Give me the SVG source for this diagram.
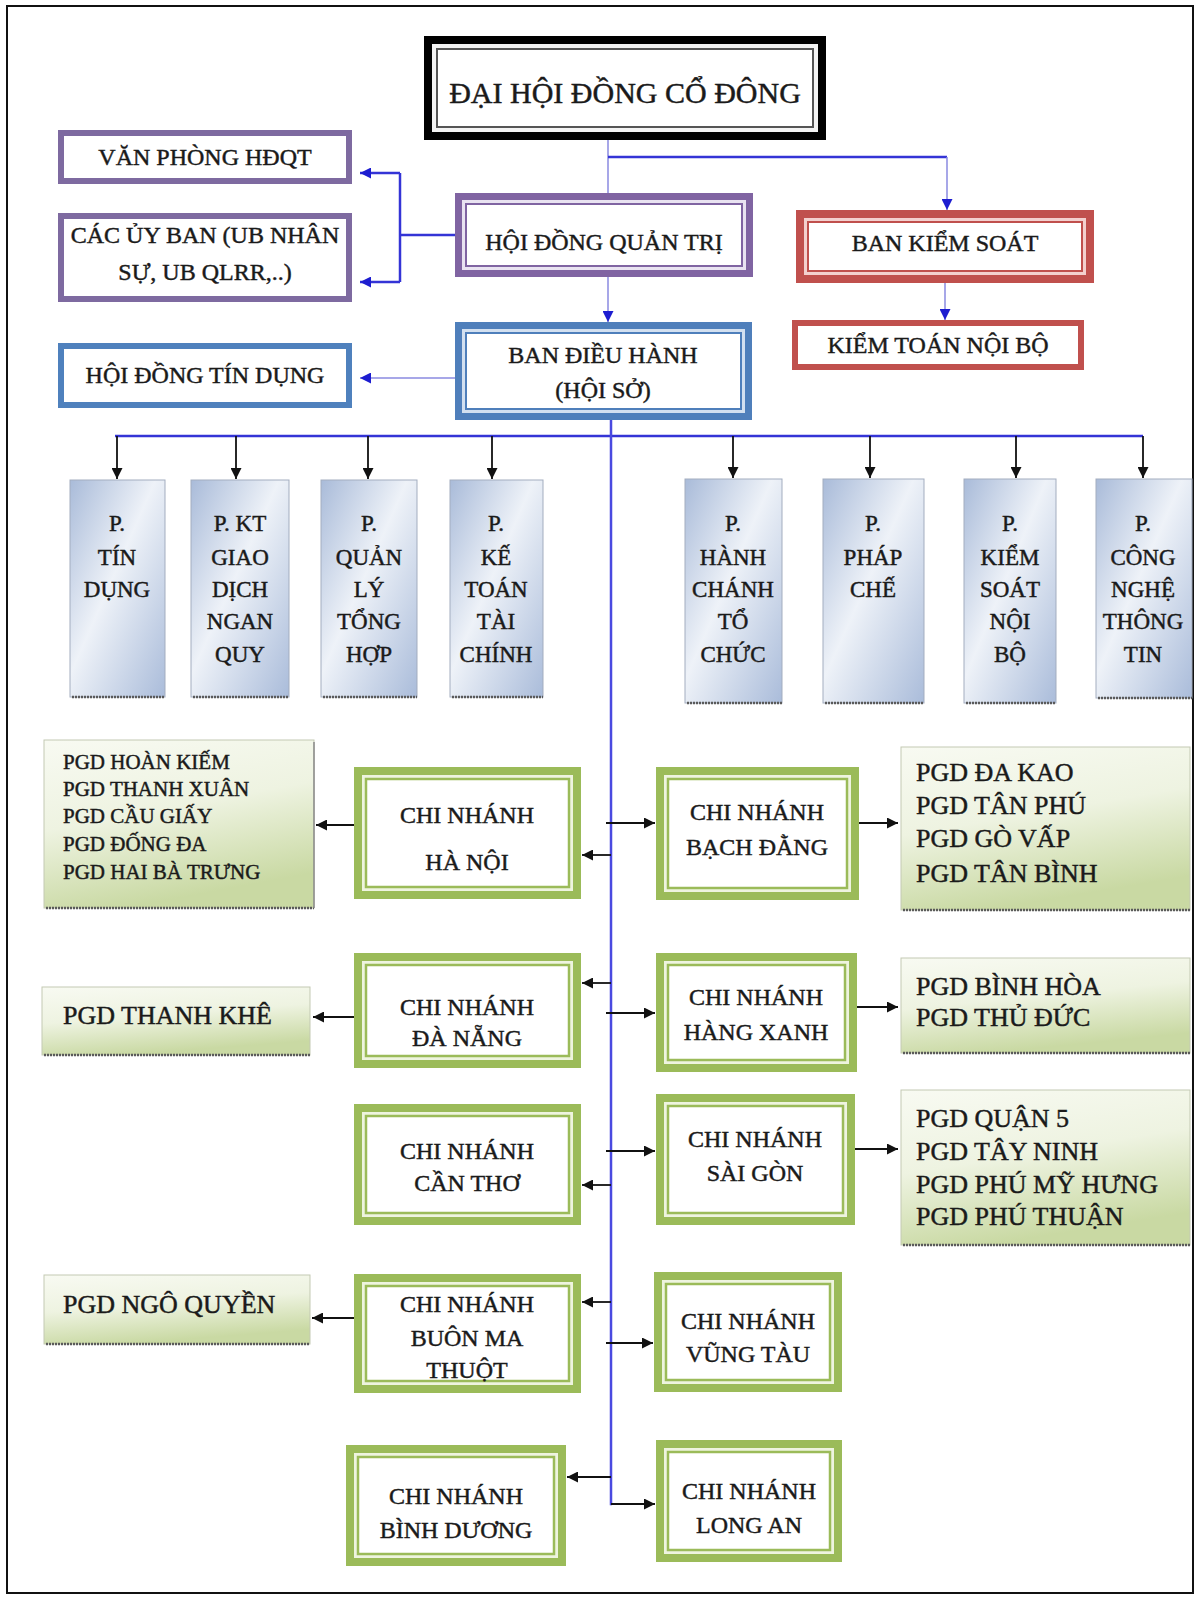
<svg xmlns="http://www.w3.org/2000/svg" width="1195" height="1598" viewBox="0 0 1195 1598">
<defs>
<style>
text{font-family:"Liberation Serif","Times New Roman",serif;fill:#1a1a1a;stroke:#1a1a1a;stroke-width:0.45;text-anchor:middle}
.t30{font-size:30px}
.t24{font-size:24px}
.t23{font-size:23px}
.t26{font-size:26px;text-anchor:start}
.t21{font-size:21px;text-anchor:start}
.blk{stroke:#111;stroke-width:1.8;fill:none}
.blu{stroke:#3434d6;stroke-width:2.5;fill:none}
.blut{stroke:#8a8ae0;stroke-width:1.5;fill:none}
.main{stroke:#4a4ae0;stroke-width:2.5;fill:none}
.dept{fill:url(#gDept);stroke:#a3adbf;stroke-width:1}
.pgd{fill:url(#gPgd);stroke:#c3c9b3;stroke-width:1}
.shd{stroke:#5a5a5a;stroke-width:2.5;stroke-dasharray:2 1}
.shr{stroke:#8a8a8a;stroke-width:1.5}
.gOut{fill:#eef4df;stroke:#9bbb59;stroke-width:8}
.gIn{fill:#fff;stroke:#9bbb59;stroke-width:2.5}
</style>
<linearGradient id="gDept" x1="0" y1="0" x2="1" y2="1">
<stop offset="0" stop-color="#a9bbd9"/>
<stop offset="0.45" stop-color="#eef2f8"/>
<stop offset="1" stop-color="#aabcda"/>
</linearGradient>
<linearGradient id="gPgd" x1="0" y1="0" x2="0.3" y2="1">
<stop offset="0" stop-color="#f8faf2"/>
<stop offset="0.5" stop-color="#eef3e1"/>
<stop offset="1" stop-color="#c9d9a3"/>
</linearGradient>
<marker id="ak" viewBox="0 0 10 10" refX="10" refY="5" markerWidth="11" markerHeight="11" markerUnits="userSpaceOnUse" orient="auto"><path d="M0,0 L10,5 L0,10 z" fill="#111"/></marker>
<marker id="ab" viewBox="0 0 10 10" refX="10" refY="5" markerWidth="11" markerHeight="11" markerUnits="userSpaceOnUse" orient="auto"><path d="M0,0 L10,5 L0,10 z" fill="#1d1dd0"/></marker>
</defs>

<rect x="0" y="0" width="1195" height="1598" fill="#fff"/>
<rect x="7" y="6" width="1186" height="1587" fill="none" stroke="#111" stroke-width="2"/>

<g id="connectors">
<line class="blut" x1="608" y1="140" x2="608" y2="193"/>
<line class="blu" x1="608" y1="157" x2="947" y2="157"/>
<line class="blut" x1="947" y1="157" x2="947" y2="210" marker-end="url(#ab)"/>
<line class="blut" x1="945" y1="283" x2="945" y2="320" marker-end="url(#ab)"/>
<line class="blut" x1="608" y1="277" x2="608" y2="322" marker-end="url(#ab)"/>
<line class="blu" x1="455" y1="235" x2="400" y2="235" stroke-width="3"/>
<line class="blu" x1="400" y1="173" x2="400" y2="282" stroke-width="2"/>
<line class="blu" x1="400" y1="173" x2="360" y2="173" stroke-width="2" marker-end="url(#ab)"/>
<line class="blu" x1="400" y1="282" x2="360" y2="282" stroke-width="2" marker-end="url(#ab)"/>
<line class="blut" x1="455" y1="378" x2="360" y2="378" marker-end="url(#ab)"/>
<line class="blu" x1="115" y1="436" x2="1143" y2="436"/>
<line class="blk" x1="117" y1="436" x2="117" y2="479" marker-end="url(#ak)"/>
<line class="blk" x1="236" y1="436" x2="236" y2="479" marker-end="url(#ak)"/>
<line class="blk" x1="368" y1="436" x2="368" y2="479" marker-end="url(#ak)"/>
<line class="blk" x1="492" y1="436" x2="492" y2="479" marker-end="url(#ak)"/>
<line class="blk" x1="733" y1="436" x2="733" y2="478" marker-end="url(#ak)"/>
<line class="blk" x1="870" y1="436" x2="870" y2="478" marker-end="url(#ak)"/>
<line class="blk" x1="1016" y1="436" x2="1016" y2="478" marker-end="url(#ak)"/>
<line class="blk" x1="1143" y1="436" x2="1143" y2="478" marker-end="url(#ak)"/>
<polyline class="main" points="611,420 611,1504 612,1504"/>
<line class="blk" x1="611" y1="1504" x2="655" y2="1504" marker-end="url(#ak)"/>
<line class="blk" x1="611" y1="855" x2="582" y2="855" marker-end="url(#ak)"/>
<line class="blk" x1="606" y1="823" x2="655" y2="823" marker-end="url(#ak)"/>
<line class="blk" x1="611" y1="983" x2="582" y2="983" marker-end="url(#ak)"/>
<line class="blk" x1="606" y1="1013" x2="655" y2="1013" marker-end="url(#ak)"/>
<line class="blk" x1="606" y1="1151" x2="655" y2="1151" marker-end="url(#ak)"/>
<line class="blk" x1="611" y1="1185" x2="582" y2="1185" marker-end="url(#ak)"/>
<line class="blk" x1="611" y1="1302" x2="582" y2="1302" marker-end="url(#ak)"/>
<line class="blk" x1="606" y1="1343" x2="653" y2="1343" marker-end="url(#ak)"/>
<line class="blk" x1="611" y1="1477" x2="567" y2="1477" stroke="#777" marker-end="url(#ak)"/>
<line class="blk" x1="354" y1="825" x2="316" y2="825" marker-end="url(#ak)"/>
<line class="blk" x1="354" y1="1017" x2="313" y2="1017" marker-end="url(#ak)"/>
<line class="blk" x1="354" y1="1318" x2="312" y2="1318" marker-end="url(#ak)"/>
<line class="blk" x1="859" y1="823" x2="898" y2="823" marker-end="url(#ak)"/>
<line class="blk" x1="857" y1="1007" x2="898" y2="1007" marker-end="url(#ak)"/>
<line class="blk" x1="855" y1="1149" x2="898" y2="1149" marker-end="url(#ak)"/>
</g>

<g id="dhdcd">
<rect x="428" y="40" width="394" height="96" fill="#f3f3f3" stroke="#000" stroke-width="8"/>
<rect x="437" y="49" width="376" height="78" fill="#fff" stroke="#555" stroke-width="2"/>
<text class="t30" x="625" y="103">ĐẠI HỘI ĐỒNG CỔ ĐÔNG</text>
</g>

<g id="hdqt">
<rect x="458.5" y="196.5" width="291" height="77" fill="#e9e3f1" stroke="#8064a2" stroke-width="7"/>
<rect x="466" y="204" width="276" height="62" fill="#fff" stroke="#8064a2" stroke-width="2"/>
<text class="t24" x="604" y="250">HỘI ĐỒNG QUẢN TRỊ</text>
</g>

<g id="vphdqt">
<rect x="61" y="133" width="288" height="48" fill="#fff" stroke="#7e6aa0" stroke-width="6"/>
<text class="t24" x="205" y="165">VĂN PHÒNG HĐQT</text>
</g>

<g id="cacuyban">
<rect x="61" y="216" width="288" height="83" fill="#fff" stroke="#7e6aa0" stroke-width="6"/>
<text class="t24" x="205" y="243">CÁC ỦY BAN (UB NHÂN</text>
<text class="t24" x="205" y="280">SỰ, UB QLRR,..)</text>
</g>

<g id="bks">
<rect x="800" y="214" width="290" height="65" fill="#f3d0ce" stroke="#c0504d" stroke-width="8"/>
<rect x="808" y="222" width="274" height="49" fill="#fff" stroke="#c0504d" stroke-width="2"/>
<text class="t24" x="945" y="251">BAN KIỂM SOÁT</text>
</g>

<g id="ktnb">
<rect x="795" y="323" width="286" height="44" fill="#fff" stroke="#c0504d" stroke-width="6"/>
<text class="t24" x="938" y="353">KIỂM TOÁN NỘI BỘ</text>
</g>

<g id="bdh">
<rect x="458.5" y="325.5" width="290" height="91" fill="#d3e0f0" stroke="#4f7fbb" stroke-width="7"/>
<rect x="466" y="333" width="275" height="76" fill="#fff" stroke="#4f7fbb" stroke-width="2"/>
<text class="t24" x="603" y="363">BAN ĐIỀU HÀNH</text>
<text class="t24" x="603" y="398">(HỘI SỞ)</text>
</g>

<g id="hdtd">
<rect x="61" y="346" width="288" height="59" fill="#fff" stroke="#4f81bd" stroke-width="6"/>
<text class="t24" x="205" y="383">HỘI ĐỒNG TÍN DỤNG</text>
</g>

<g id="p-tindung">
<rect class="dept" x="70" y="480" width="95" height="217"/>
<line class="shd" x1="72" y1="697" x2="165" y2="697"/>
<text class="t23"><tspan x="117" y="531">P.</tspan><tspan x="117" y="565">TÍN</tspan><tspan x="117" y="597">DỤNG</tspan></text>
</g>
<g id="p-ktgd">
<rect class="dept" x="191" y="480" width="98" height="217"/>
<line class="shd" x1="193" y1="697" x2="289" y2="697"/>
<text class="t23"><tspan x="240" y="531">P. KT</tspan><tspan x="240" y="565">GIAO</tspan><tspan x="240" y="597">DỊCH</tspan><tspan x="240" y="629">NGAN</tspan><tspan x="240" y="662">QUY</tspan></text>
</g>
<g id="p-qlth">
<rect class="dept" x="321" y="480" width="96" height="217"/>
<line class="shd" x1="323" y1="697" x2="417" y2="697"/>
<text class="t23"><tspan x="369" y="531">P.</tspan><tspan x="369" y="565">QUẢN</tspan><tspan x="369" y="597">LÝ</tspan><tspan x="369" y="629">TỔNG</tspan><tspan x="369" y="662">HỢP</tspan></text>
</g>
<g id="p-kttc">
<rect class="dept" x="450" y="480" width="93" height="217"/>
<line class="shd" x1="452" y1="697" x2="543" y2="697"/>
<text class="t23"><tspan x="496" y="531">P.</tspan><tspan x="496" y="565">KẾ</tspan><tspan x="496" y="597">TOÁN</tspan><tspan x="496" y="629">TÀI</tspan><tspan x="496" y="662">CHÍNH</tspan></text>
</g>
<g id="p-hctc">
<rect class="dept" x="685" y="479" width="97" height="224"/>
<line class="shd" x1="687" y1="703" x2="782" y2="703"/>
<text class="t23"><tspan x="733" y="531">P.</tspan><tspan x="733" y="565">HÀNH</tspan><tspan x="733" y="597">CHÁNH</tspan><tspan x="733" y="629">TỔ</tspan><tspan x="733" y="662">CHỨC</tspan></text>
</g>
<g id="p-phapche">
<rect class="dept" x="823" y="479" width="101" height="224"/>
<line class="shd" x1="825" y1="703" x2="924" y2="703"/>
<text class="t23"><tspan x="873" y="531">P.</tspan><tspan x="873" y="565">PHÁP</tspan><tspan x="873" y="597">CHẾ</tspan></text>
</g>
<g id="p-ksnb">
<rect class="dept" x="964" y="479" width="92" height="224"/>
<line class="shd" x1="966" y1="703" x2="1056" y2="703"/>
<text class="t23"><tspan x="1010" y="531">P.</tspan><tspan x="1010" y="565">KIỂM</tspan><tspan x="1010" y="597">SOÁT</tspan><tspan x="1010" y="629">NỘI</tspan><tspan x="1010" y="662">BỘ</tspan></text>
</g>
<g id="p-cntt">
<rect class="dept" x="1096" y="479" width="96" height="219"/>
<line class="shd" x1="1098" y1="698" x2="1192" y2="698"/>
<text class="t23"><tspan x="1143" y="531">P.</tspan><tspan x="1143" y="565">CÔNG</tspan><tspan x="1143" y="597">NGHỆ</tspan><tspan x="1143" y="629">THÔNG</tspan><tspan x="1143" y="662">TIN</tspan></text>
</g>

<g id="pgd-hanoi">
<rect class="pgd" x="44" y="740" width="270" height="168"/>
<line class="shd" x1="46" y1="908" x2="314" y2="908"/>
<line class="shr" x1="314" y1="742" x2="314" y2="908"/>
<text class="t21"><tspan x="63" y="769">PGD HOÀN KIẾM</tspan><tspan x="63" y="796">PGD THANH XUÂN</tspan><tspan x="63" y="823">PGD CẦU GIẤY</tspan><tspan x="63" y="851">PGD ĐỐNG ĐA</tspan><tspan x="63" y="879">PGD HAI BÀ TRƯNG</tspan></text>
</g>
<g id="cn-hanoi">
<rect class="gOut" x="358" y="771" width="219" height="124"/>
<rect class="gIn" x="366" y="779" width="203" height="108"/>
<text class="t24" x="467" y="823">CHI NHÁNH</text>
<text class="t24" x="467" y="870">HÀ NỘI</text>
</g>
<g id="cn-bachdang">
<rect class="gOut" x="660" y="771" width="195" height="125"/>
<rect class="gIn" x="668" y="779" width="179" height="109"/>
<text class="t24" x="757" y="820">CHI NHÁNH</text>
<text class="t24" x="757" y="855">BẠCH ĐẰNG</text>
</g>
<g id="pgd-bachdang">
<rect class="pgd" x="901" y="747" width="289" height="163"/>
<line class="shd" x1="903" y1="910" x2="1190" y2="910"/>
<text class="t26"><tspan x="916" y="781">PGD ĐA KAO</tspan><tspan x="916" y="814">PGD TÂN PHÚ</tspan><tspan x="916" y="847">PGD GÒ VẤP</tspan><tspan x="916" y="882">PGD TÂN BÌNH</tspan></text>
</g>

<g id="pgd-thanhkhe">
<rect class="pgd" x="42" y="987" width="268" height="68"/>
<line class="shd" x1="44" y1="1055" x2="310" y2="1055"/>
<text class="t26" x="63" y="1024">PGD THANH KHÊ</text>
</g>
<g id="cn-danang">
<rect class="gOut" x="358" y="957" width="219" height="107"/>
<rect class="gIn" x="366" y="965" width="203" height="91"/>
<text class="t24" x="467" y="1015">CHI NHÁNH</text>
<text class="t24" x="467" y="1046">ĐÀ NẴNG</text>
</g>
<g id="cn-hangxanh">
<rect class="gOut" x="660" y="957" width="193" height="111"/>
<rect class="gIn" x="668" y="965" width="177" height="95"/>
<text class="t24" x="756" y="1005">CHI NHÁNH</text>
<text class="t24" x="756" y="1040">HÀNG XANH</text>
</g>
<g id="pgd-hangxanh">
<rect class="pgd" x="901" y="958" width="289" height="95"/>
<line class="shd" x1="903" y1="1053" x2="1190" y2="1053"/>
<text class="t26"><tspan x="916" y="995">PGD BÌNH HÒA</tspan><tspan x="916" y="1026">PGD THỦ ĐỨC</tspan></text>
</g>

<g id="cn-cantho">
<rect class="gOut" x="358" y="1108" width="219" height="113"/>
<rect class="gIn" x="366" y="1116" width="203" height="97"/>
<text class="t24" x="467" y="1159">CHI NHÁNH</text>
<text class="t24" x="467" y="1191">CẦN THƠ</text>
</g>
<g id="cn-saigon">
<rect class="gOut" x="660" y="1098" width="191" height="123"/>
<rect class="gIn" x="668" y="1106" width="175" height="107"/>
<text class="t24" x="755" y="1147">CHI NHÁNH</text>
<text class="t24" x="755" y="1181">SÀI GÒN</text>
</g>
<g id="pgd-saigon">
<rect class="pgd" x="901" y="1090" width="289" height="155"/>
<line class="shd" x1="903" y1="1245" x2="1190" y2="1245"/>
<text class="t26"><tspan x="916" y="1127">PGD QUẬN 5</tspan><tspan x="916" y="1160">PGD TÂY NINH</tspan><tspan x="916" y="1193">PGD PHÚ MỸ HƯNG</tspan><tspan x="916" y="1225">PGD PHÚ THUẬN</tspan></text>
</g>

<g id="pgd-ngoquyen">
<rect class="pgd" x="44" y="1275" width="266" height="69"/>
<line class="shd" x1="46" y1="1344" x2="310" y2="1344"/>
<text class="t26" x="63" y="1313">PGD NGÔ QUYỀN</text>
</g>
<g id="cn-bmt">
<rect class="gOut" x="358" y="1278" width="219" height="111"/>
<rect class="gIn" x="366" y="1286" width="203" height="95"/>
<text class="t24" x="467" y="1312">CHI NHÁNH</text>
<text class="t24" x="467" y="1346">BUÔN MA</text>
<text class="t24" x="467" y="1378">THUỘT</text>
</g>
<g id="cn-vungtau">
<rect class="gOut" x="658" y="1276" width="180" height="112"/>
<rect class="gIn" x="666" y="1284" width="164" height="96"/>
<text class="t24" x="748" y="1329">CHI NHÁNH</text>
<text class="t24" x="748" y="1362">VŨNG TÀU</text>
</g>

<g id="cn-binhduong">
<rect class="gOut" x="350" y="1449" width="212" height="113"/>
<rect class="gIn" x="358" y="1457" width="196" height="97"/>
<text class="t24" x="456" y="1504">CHI NHÁNH</text>
<text class="t24" x="456" y="1538">BÌNH DƯƠNG</text>
</g>
<g id="cn-longan">
<rect class="gOut" x="660" y="1444" width="178" height="114"/>
<rect class="gIn" x="668" y="1452" width="162" height="98"/>
<text class="t24" x="749" y="1499">CHI NHÁNH</text>
<text class="t24" x="749" y="1533">LONG AN</text>
</g>
</svg>
